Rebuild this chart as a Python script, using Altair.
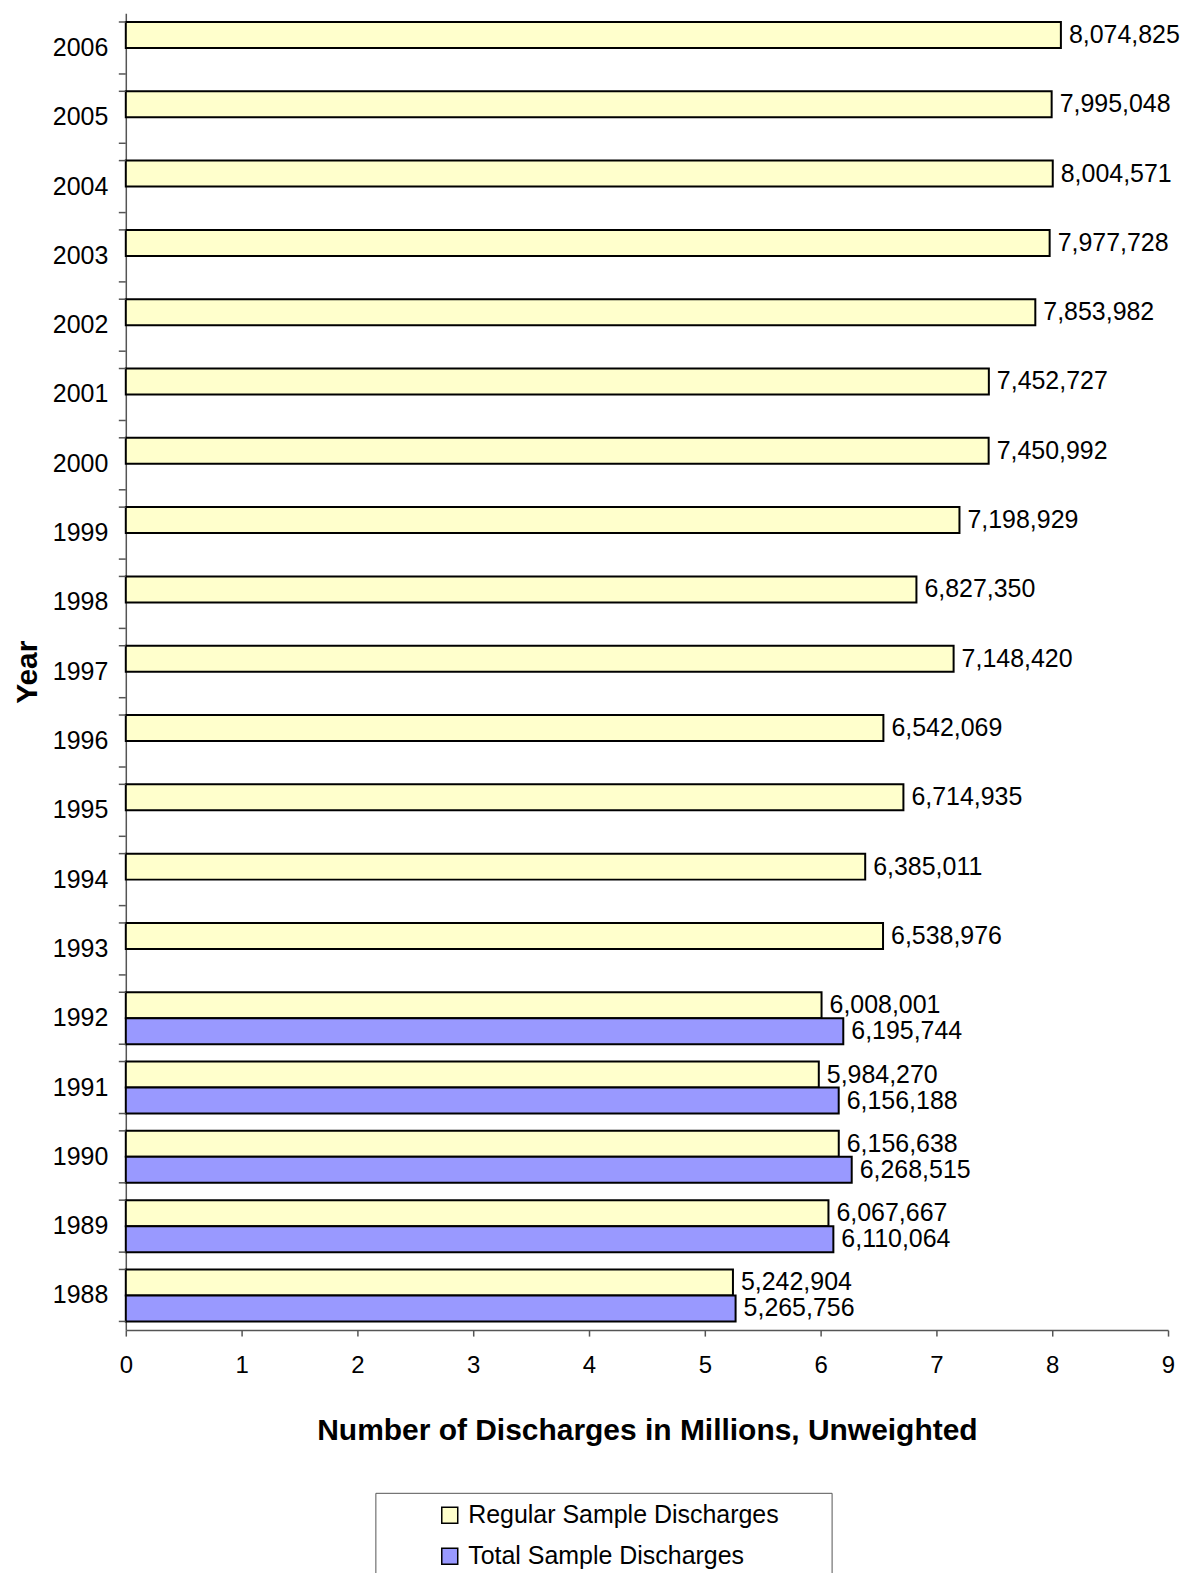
import altair as alt
import pandas as pd

years = [2006, 2005, 2004, 2003, 2002, 2001, 2000, 1999, 1998, 1997,
         1996, 1995, 1994, 1993, 1992, 1991, 1990, 1989, 1988]
regular = [8074825, 7995048, 8004571, 7977728, 7853982, 7452727, 7450992,
           7198929, 6827350, 7148420, 6542069, 6714935, 6385011, 6538976,
           6008001, 5984270, 6156638, 6067667, 5242904]
total_years = [1992, 1991, 1990, 1989, 1988]
total = [6195744, 6156188, 6268515, 6110064, 5265756]

series_names = ["Regular Sample Discharges", "Total Sample Discharges"]
colors = ["#FFFFCC", "#9999FF"]

rows = []
for y, v in zip(years, regular):
    rows.append({"year": str(y), "series": series_names[0], "value": v})
for y, v in zip(total_years, total):
    rows.append({"year": str(y), "series": series_names[1], "value": v})
df = pd.DataFrame(rows)
year_order = [str(y) for y in years]

FONT = "Liberation Sans"

y_axis = alt.Axis(title="Year", ticks=False, labelFontSize=25, labelFont=FONT,
                  labelColor="black", labelPadding=18, titleFontSize=30,
                  titleFont=FONT, titleFontWeight="bold", titleColor="black",
                  titlePadding=10, domainColor="#555", domainWidth=1.5)
y_scale = alt.Scale(paddingInner=0.25, paddingOuter=0.125)
yoff = alt.YOffset("series:N", sort=series_names,
                   scale=alt.Scale(domain=series_names, paddingInner=0, paddingOuter=0))

x_enc = alt.X("m:Q", scale=alt.Scale(domain=[0, 9], nice=False),
              axis=alt.Axis(values=list(range(10)), format="d", labelFlush=False,
                            title="Number of Discharges in Millions, Unweighted",
                            labelFontSize=24, labelFont=FONT, labelColor="black",
                            labelPadding=17, tickSize=6, tickColor="#555",
                            tickWidth=1.5, domainColor="#555", domainWidth=1.5,
                            titleFontSize=30, titleFont=FONT, titleFontWeight="bold",
                            titleColor="black", titlePadding=39, grid=False))

base = alt.Chart(df).transform_calculate(m="datum.value / 1000000")

bars = base.mark_bar(stroke="black", strokeWidth=2).encode(
    x=x_enc,
    y=alt.Y("year:N", sort=year_order, scale=y_scale, axis=y_axis),
    yOffset=yoff,
    color=alt.Color("series:N", scale=alt.Scale(domain=series_names, range=colors),
                    legend=alt.Legend(title="\u00a0", titleOrient="right",
                                      titlePadding=43, titleFontSize=25,
                                      orient="none", legendX=250, legendY=1482,
                                      direction="vertical", symbolType="square",
                                      symbolSize=256, symbolStrokeColor="black",
                                      symbolStrokeWidth=1.5, symbolOffset=52,
                                      labelFontSize=25, labelFont=FONT,
                                      labelColor="black", rowPadding=15,
                                      labelOffset=6,
                                      padding=10, strokeColor="#555",
                                      labelLimit=800)),
)

labels = base.mark_text(align="left", baseline="middle", dx=8, fontSize=25,
                        font=FONT, color="black").encode(
    x="m:Q",
    y=alt.Y("year:N", sort=year_order, scale=y_scale, axis=y_axis),
    yOffset=yoff,
    text=alt.Text("value:Q", format=",d"),
)

tick_df = pd.DataFrame({"year": year_order})
ticks_top = alt.Chart(tick_df).mark_rule(color="#555", strokeWidth=1.5).encode(
    y=alt.Y("year:N", sort=year_order, scale=y_scale, axis=y_axis, bandPosition=0),
    x=alt.value(-7), x2=alt.value(0),
)
ticks_bottom = alt.Chart(tick_df).mark_rule(color="#555", strokeWidth=1.5).encode(
    y=alt.Y("year:N", sort=year_order, scale=y_scale, axis=y_axis, bandPosition=1),
    x=alt.value(-7), x2=alt.value(0),
)

chart = alt.layer(bars, labels, ticks_top, ticks_bottom).properties(
    width=1044, height=1319, background="white",
    padding={"left": 4, "top": 4, "right": 5, "bottom": 5},
).configure_view(stroke=None)

chart.save("out.html", embed_options={"renderer": "svg", "actions": False})
